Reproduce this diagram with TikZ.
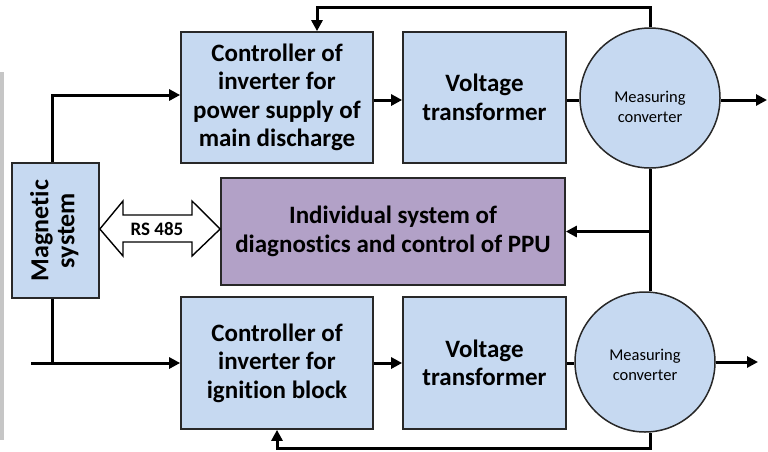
\documentclass[tikz,border=0pt]{standalone}
\usepackage{fontspec}
\setmainfont[Ligatures=NoCommon]{Carlito}
\usetikzlibrary{arrows.meta}
\definecolor{boxblue}{RGB}{198,217,241}
\definecolor{boxpurple}{RGB}{178,161,199}
\definecolor{edgegray}{RGB}{40,40,40}
\begin{document}
\begin{tikzpicture}[x=1pt,y=-1pt,
  blk/.style={draw=edgegray,line width=1.7pt,fill=boxblue,align=center,inner sep=0pt,
    font=\fontsize{25}{28.5}\selectfont\bfseries},
  meas/.style={circle,draw=edgegray,line width=1.5pt,fill=boxblue,minimum size=140pt,inner sep=0pt},
  meastext/.style={align=center,inner sep=0pt,font=\fontsize{16.5}{20}\selectfont},
  conn/.style={line width=3pt,line join=miter},
  arr/.style={conn,-{Triangle[length=11pt,width=11pt]}}]
\useasboundingbox (0,0) rectangle (768,451);
\fill[gray!45] (0,72) rectangle (4,440);
% blocks
\node[blk,minimum width=192pt,minimum height=131pt] (ctrl1) at (277,97.5) {Controller of\\inverter for\\power supply of\\main discharge};
\node[blk,minimum width=163pt,minimum height=131pt] (vt1) at (484.5,97.5) {Voltage\\transformer};
\node[meas] (mc1) at (650,98) {};
\node[meastext] (mc1t) at (650,107) {Measuring\\converter};
\node[blk,minimum width=87pt,minimum height=135pt,font=\fontsize{26}{29}\selectfont\bfseries] (mag) at (55.5,230.5) {\rotatebox{90}{\begin{tabular}{@{}c@{}}Magnetic\\[-3pt]system\end{tabular}}};
\node[blk,fill=boxpurple,minimum width=344pt,minimum height=107pt] (ppu) at (393,231.5) {Individual system of\\diagnostics and control of PPU};
\node[blk,minimum width=192pt,minimum height=132pt] (ctrl2) at (277,363) {Controller of\\inverter for\\ignition block};
\node[blk,minimum width=163pt,minimum height=132pt] (vt2) at (484.5,363) {Voltage\\transformer};
\node[meas] (mc2) at (645,362) {};
\node[meastext] (mc2t) at (645,365) {Measuring\\converter};
\coordinate (out1) at (767,100);
\coordinate (out2) at (758,362);
\coordinate (lin) at (31,363);
% RS 485 double arrow
\draw[line width=1.4pt,fill=white,line join=miter] (mag.east |- 0,229) -- (123,201) -- (123,215) -- (192,215) -- (192,201) -- (ppu.west |- 0,229) -- (192,256) -- (192,242) -- (123,242) -- (123,256) -- cycle;
\node[font=\fontsize{19}{22}\selectfont\bfseries] (rs) at (157,229) {RS 485};
% connectors
\draw[arr] ([xshift=-3.5pt]mag.north) |- (ctrl1.west |- 0,95);
\draw[conn] ([xshift=-3.5pt]mag.south) -- ([xshift=-3.5pt]mag.south |- lin);
\draw[arr] (lin) -- (ctrl2.west);
\draw[arr] (ctrl1.east |- 0,100) -- (vt1.west |- 0,100);
\draw[conn] (vt1.east |- 0,100) -- (mc1.west |- 0,100);
\draw[arr] (mc1.east |- out1) -- (out1);
\draw[arr] (mc1.north) -- ++(0,-20) -| ([xshift=40pt]ctrl1.north);
\draw[conn] (mc1.south) -- (mc1.south |- mc2.north);
\draw[arr] (mc1.south |- ppu.east) -- (ppu.east);
\draw[arr] (ctrl2.east) -- (vt2.west);
\draw[conn] (vt2.east) -- (mc2.west |- vt2.east);
\draw[arr] (mc2.east) -- (out2);
\draw[arr] (mc1.south |- mc2.south) -- ++(0,16) -| (ctrl2.south);
\end{tikzpicture}
\end{document}
